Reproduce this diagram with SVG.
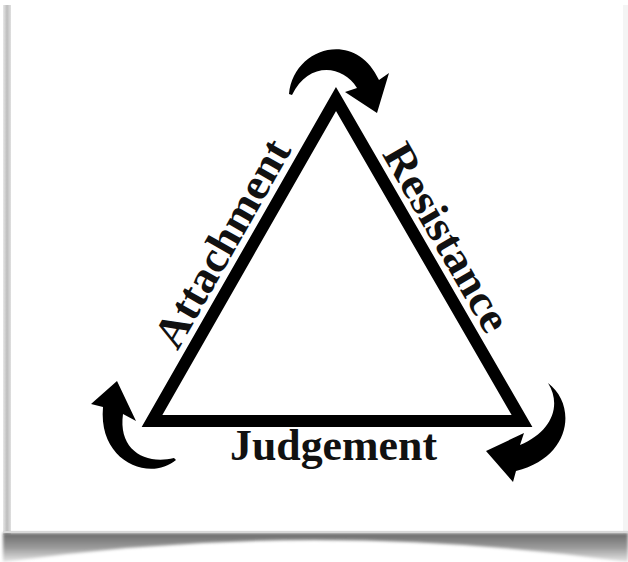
<svg xmlns="http://www.w3.org/2000/svg" width="628" height="562" viewBox="0 0 628 562">
<defs>
<linearGradient id="lstrip" x1="0" y1="0" x2="1" y2="0">
<stop offset="0" stop-color="#e8e8e8"/><stop offset="0.5" stop-color="#bdbdbd"/><stop offset="1" stop-color="#e0e0e0"/>
</linearGradient>
<linearGradient id="shadowV" x1="0" y1="0" x2="0" y2="1">
<stop offset="0" stop-color="#6a6a6a"/><stop offset="0.5" stop-color="#9a9a9a"/><stop offset="1" stop-color="#e6e6e6"/>
</linearGradient>
<radialGradient id="centerLight" cx="0.5" cy="0.9" r="0.5">
<stop offset="0" stop-color="#ffffff" stop-opacity="0.85"/><stop offset="1" stop-color="#ffffff" stop-opacity="0"/>
</radialGradient>
<filter id="soft" x="-5%" y="-50%" width="110%" height="200%"><feGaussianBlur stdDeviation="1.5"/></filter>
<style>
.lbl{font-family:"Liberation Serif","Times New Roman",serif;font-weight:bold;font-size:44px;fill:#111;}
.arrow{fill:#000;}
.tri{fill:none;stroke:#000;stroke-width:12;stroke-linejoin:miter;stroke-miterlimit:10;}
</style>
</defs>
<rect x="0" y="0" width="628" height="562" fill="#ffffff"/>
<g id="frame">
<rect x="3" y="5" width="8" height="530" fill="url(#lstrip)"/>
<rect x="623" y="5" width="5" height="530" fill="#f4f4f4"/>
<path d="M3,533 L628,533 L628,562 Q314,518 3,562 Z" fill="url(#shadowV)" filter="url(#soft)"/>
<ellipse cx="314" cy="556" rx="260" ry="20" fill="url(#centerLight)"/>
<rect x="3" y="531" width="625" height="2" fill="#d8d8d8"/>
</g>
<g id="triangle">
<polygon class="tri" points="336,99 522,421 152,421"/>
</g>
<g id="label-attachment">
<text class="lbl" text-anchor="middle" textLength="232" lengthAdjust="spacingAndGlyphs" transform="translate(234.7,250.6) rotate(-60.4)">Attachment</text>
</g>
<g id="label-resistance">
<text class="lbl" text-anchor="middle" textLength="210" lengthAdjust="spacingAndGlyphs" transform="translate(434,244.7) rotate(60)">Resistance</text>
</g>
<g id="label-judgement">
<text class="lbl" x="333.5" y="460" text-anchor="middle" textLength="207" lengthAdjust="spacingAndGlyphs">Judgement</text>
</g>
<g id="connectors">
<path class="arrow" d="M289,94 C293,48 355,28 379,80 L389,73 L377,113 L345,92 L357,88 C342,64 308,62 292,95 Z"/>
<path class="arrow" d="M176,460 C150,482 98,462 103,407 L91,404 L117,381 L136,421 L123,414 C118,450 145,465 174,458 Z"/>
<path class="arrow" d="M548,383 C577,405 572,457 516,471 L513,482 L486,451 L524,433 L520,445 C552,432 562,405 548,383 Z"/>
</g>
</svg>
